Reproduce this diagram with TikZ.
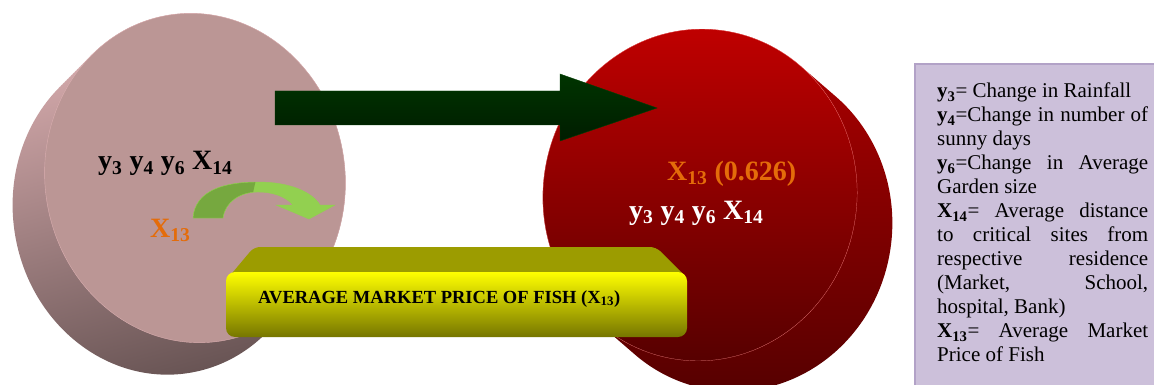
\documentclass[tikz,border=0pt]{standalone}
\usepackage{fontspec}
\setmainfont{Liberation Serif}
\usepackage{tikz}
\usetikzlibrary{calc}

\definecolor{discface}{RGB}{187,150,149}
\definecolor{disclight}{RGB}{218,174,176}
\definecolor{discdark}{RGB}{104,84,84}
\definecolor{redtop}{RGB}{194,0,0}
\definecolor{redbot}{RGB}{84,0,0}
\definecolor{arrowgreen}{RGB}{0,52,0}
\definecolor{leafdark}{RGB}{118,168,63}
\definecolor{leaflight}{RGB}{146,208,80}
\definecolor{barolive}{RGB}{156,156,0}
\definecolor{bardark}{RGB}{118,118,0}
\definecolor{keyfill}{RGB}{204,192,218}
\definecolor{keyborder}{RGB}{178,162,199}
\definecolor{numorange}{RGB}{228,108,10}

\newcommand{\spreadline}[1]{\makebox[211pt][s]{#1}}

\begin{document}
\begin{tikzpicture}[x=1pt, y=-1pt]
		% 1. canvas
		\useasboundingbox (0,0) rectangle (1154,385);
		\clip (0,0) rectangle (1154,385);
		
		\def\rx{150}
		\def\ry{165}
		
		% 2. left disc: swept side, then the face
		\coordinate (L) at (195,178);
		\shade[top color=disclight, bottom color=discdark, shading angle=15]
			\foreach \k in {0,...,16} {($(L)+(-2*\k,2*\k)$) ellipse [x radius=\rx, y radius=\ry, rotate=9]};
		\filldraw[fill=discface, draw=disclight, thin] (L) ellipse [x radius=\rx, y radius=\ry, rotate=9];
		
		% 3. right disc
		\coordinate (R) at (700,195);
		\shade[top color=redtop!92!black, bottom color=redbot]
			\foreach \k in {0,...,16} {($(R)+(2.2*\k,1.9*\k)$) ellipse [x radius=157, y radius=166, rotate=-7]};
		\shadedraw[top color=redtop, bottom color=redbot, draw=red!45!white, very thin]
			(R) ellipse [x radius=157, y radius=166, rotate=-7];
		
		% 4. big block arrow between the discs
		\coordinate (arrS) at (275,108);
		\coordinate (arrE) at (657,108);
		\shadedraw[top color=arrowgreen, bottom color=arrowgreen!55!black, draw=green!25!black, thin]
			($(arrS)+(0,-17)$) -- ($(arrE)+(-97,-17)$) -- ($(arrE)+(-97,-34)$) -- (arrE)
			-- ($(arrE)+(-97,33)$) -- ($(arrE)+(-97,17)$) -- ($(arrS)+(0,17)$) -- cycle;
		
		% 5. small curved arrow
		\def\curl{(193,218) .. controls (195,190) and (225,182) .. (258,182)
			.. controls (290,182) and (312,192) .. (320,205) -- (335,205) -- (309,219) -- (276,205)
			-- (293,205) .. controls (285,196) and (272,192) .. (258,192)
			.. controls (240,192) and (225,202) .. (223,218) -- cycle}
		\fill[leaflight] \curl;
		\begin{scope}
			\clip (180,170) -- (258,170) -- (246,225) -- (180,225) -- cycle;
			\fill[leafdark] \curl;
		\end{scope}
		\draw[leaflight, thin] \curl;
		
		% 6. yellow bar
		\coordinate (barNW) at (226,272);
		\coordinate (barSE) at (687,337);
		\fill[barolive, rounded corners=6] (228,278) -- (254,247) -- (656,247) -- (687,278) -- cycle;
		\shade[top color=yellow, middle color=yellow!88!black, bottom color=bardark, rounded corners=9]
			(barNW) rectangle (barSE);
		\node[anchor=base west, inner sep=0pt, font=\bfseries\fontsize{18.5}{22}\selectfont] (bartxt) at (258,303)
			{AVERAGE MARKET PRICE OF FISH (X\textsubscript{13})};
		
		% 7. labels on the discs
		\node[anchor=base west, inner sep=0pt, font=\bfseries\fontsize{28}{32}\selectfont] (leftvars) at (98,170)
			{y\textsubscript{3} y\textsubscript{4} y\textsubscript{6} X\textsubscript{14}};
		\node[anchor=base west, inner sep=0pt, numorange, font=\bfseries\fontsize{28}{32}\selectfont] (leftx) at (150,237)
			{X\textsubscript{13}};
		\node[anchor=base west, inner sep=0pt, numorange, font=\bfseries\fontsize{28}{32}\selectfont] (rightx) at (667,180)
			{X\textsubscript{13} (0.626)};
		\node[anchor=base west, inner sep=0pt, white, font=\bfseries\fontsize{28}{32}\selectfont] (rightvars) at (629,219)
			{y\textsubscript{3} y\textsubscript{4} y\textsubscript{6} X\textsubscript{14}};
		
		% 8. key box
		\draw[keyborder, fill=keyfill, line width=1.2pt] (915,64) rectangle (1170,400);
		\node[anchor=north west, inner sep=0pt, align=left, font=\fontsize{21}{24}\selectfont] (key) at (937,83) {%
			\textbf{y\textsubscript{3}}= Change in Rainfall\\
			\spreadline{\textbf{y\textsubscript{4}}=Change in number of}\\
			sunny days\\
			\spreadline{\textbf{y\textsubscript{6}}=Change in Average}\\
			Garden size\\
			\spreadline{\textbf{X\textsubscript{14}}= Average distance}\\
			\spreadline{to critical sites from}\\
			\spreadline{respective residence}\\
			\spreadline{(Market, School,}\\
			hospital, Bank)\\
			\spreadline{\textbf{X\textsubscript{13}}= Average Market}\\
			Price of Fish};
		
	\end{tikzpicture}
\end{document}
